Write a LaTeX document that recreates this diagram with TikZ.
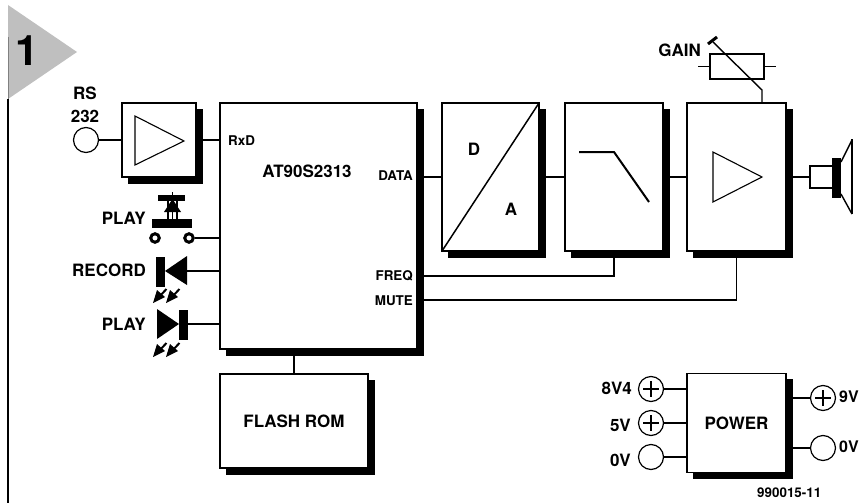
\documentclass[tikz,border=0pt]{standalone}
\usepackage{fontspec}
\setmainfont{TeX Gyre Heros}
\usetikzlibrary{shadows,calc}
\tikzset{
  x=1pt,y=-1pt,
  blockbox/.style={draw=black,line width=1.5pt,fill=white,outer sep=0pt,inner sep=0pt,align=center,
    font=\bfseries\fontsize{17}{20}\selectfont,
    general shadow={shadow xshift=6.5pt,shadow yshift=-6pt,fill=black,draw=black,line width=.5pt}},
  wire/.style={draw=black,line width=1.4pt},
  sym/.style={draw=black,line width=1.1pt,line join=miter},
  term/.style={circle,draw=black,line width=1.2pt,fill=white,inner sep=0pt,minimum size=25pt,outer sep=0pt},
  contact/.style={circle,draw=black,line width=3pt,fill=white,inner sep=0pt,minimum size=8.5pt},
  lab/.style={font=\bfseries\fontsize{17}{20}\selectfont,inner sep=0pt,text=black},
  small/.style={font=\bfseries\fontsize{13.4}{16}\selectfont,inner sep=0pt,text=black},
}
\newcommand{\plusmark}[1]{\draw[line width=1.2pt] ($(#1.center)+(-8,0)$) -- ($(#1.center)+(8,0)$) ($(#1.center)+(0,-8)$) -- ($(#1.center)+(0,8)$);}
\newcommand{\ledarrow}[2]{%
  \draw[line width=2pt] (#1+5,#2-5) -- (#1+13.5,#2-14);
  \fill (#1,#2) -- (#1+4,#2-13) -- (#1+12,#2-6) -- cycle;
}
\begin{document}
\begin{tikzpicture}
\useasboundingbox (0,0) rectangle (867,503);
% flag
\fill[black!25] (8,5) -- (77,52) -- (8,99) -- cycle;
\draw[line width=1.5pt] (8,99) -- (8,503);
\draw[black!50,line width=.8pt] (8,37) -- (8,99);
\node[inner sep=0pt,font=\bfseries\fontsize{42}{42}\selectfont] (fignum) at (27,51) {1};
% blocks
\node[blockbox,minimum width=74pt,minimum height=74pt] (amp) at (159,140) {};
\node[blockbox,minimum width=197pt,minimum height=246pt] (mcu) at (318.5,226) {};
\node[blockbox,minimum width=97pt,minimum height=148pt] (dac) at (490.5,177) {};
\node[blockbox,minimum width=98pt,minimum height=148pt] (filt) at (614,177) {};
\node[blockbox,minimum width=99pt,minimum height=148pt] (pa) at (736.5,177) {};
\node[blockbox,minimum width=148pt,minimum height=94pt] (flash) at (294,421) {FLASH ROM};
\node[blockbox,minimum width=99pt,minimum height=99pt] (power) at (736.5,423) {POWER};
% text inside
\node[lab] (mcuname) at (307,171) {AT90S2313};
\node[small,anchor=west] (rxd) at (228,141) {RxD};
\node[small,anchor=east] (data) at (413,176) {DATA};
\node[small,anchor=east] (freq) at (413,276) {FREQ};
\node[small,anchor=east] (mute) at (413,301) {MUTE};
\node[lab] (dl) at (474,149) {D};
\node[lab] (al) at (511,209) {A};
% amp symbols
\draw[sym] (135,116) -- (184,141) -- (135,165) -- cycle;
\draw[sym] (713,152) -- (762,177) -- (713,202) -- cycle;
% dac diagonal and filter curve
\draw[line width=1.5pt] (dac.south west) -- (dac.north east);
\draw[line width=2pt,miter limit=10] (579,152) -- (614,152) -- (649,202);
% RS232
\node[term] (rs) at (86,140) {};
\node[lab] (rsa) at (85,93) {RS};
\node[lab] (rsb) at (85,116) {232};
\draw[wire] (rs) -- (amp);
\draw[wire] (amp.east) -- (amp.east -| mcu.west);
% chain wires
\draw[wire] (dac.west -| mcu.east) -- (dac.west);
\draw[wire] (dac.east) -- (filt.west);
\draw[wire] (filt.east) -- (pa.west);
\coordinate (fq) at (417,276);
\coordinate (mt) at (417,300);
\draw[wire] (fq) -- (fq -| filt.south) -- (filt.south);
\draw[wire] (mt) -- (mt -| pa.south) -- (pa.south);
\draw[wire] (flash.north) -- (flash.north |- mcu.south);
% play switch
\node[contact] (swa) at (155,238) {};
\node[contact] (swb) at (189,238) {};
\draw[wire] (swb) -- (swb -| mcu.west);
\fill (158,195) rectangle (185,201);
\fill (152,219) rectangle (192,228);
\draw[line width=2.4pt] (168,201) -- (168,219) (177,201) -- (177,219);
\fill (172.5,199) -- (181,212) -- (164,212) -- cycle;
\draw[line width=1.2pt] (172.5,192) -- (172.5,219);
\node[lab,anchor=east] (playa) at (146,218) {PLAY};
% record led
\fill (156,257) rectangle (165,287);
\fill (165,271) -- (187,256) -- (187,285) -- cycle;
\coordinate (recl) at (187,271);
\draw[wire] (recl) -- (recl -| mcu.west);
\ledarrow{153}{303}
\ledarrow{166}{303}
\node[lab,anchor=east] (rec) at (146,270) {RECORD};
% play led
\fill (157,309) -- (179,324) -- (157,339) -- cycle;
\fill (179,310) rectangle (188,340);
\coordinate (plal) at (188,324);
\draw[wire] (plal) -- (plal -| mcu.west);
\ledarrow{153}{357}
\ledarrow{166}{357}
\node[lab,anchor=east] (playb) at (146,324) {PLAY};
% gain pot
\node[draw=black,line width=2.2pt,fill=white,minimum width=54pt,minimum height=25pt,inner sep=0pt,outer sep=0pt] (pot) at (737,66.5) {};
\coordinate (pl) at (698,66.5);
\coordinate (pr) at (776,66.5);
\draw[line width=1.3pt] (pl) -- (pot.west) (pot.east) -- (pr);
\draw[line width=1.4pt] (762,103) -- (762,90) -- (713,42);
\draw[line width=3pt] (708,44) -- (717,37);
\node[lab,anchor=east] (gain) at (701,50) {GAIN};
% speaker
\node[draw=black,line width=2pt,fill=white,minimum width=23pt,minimum height=22pt,inner sep=0pt,outer sep=0pt] (spk) at (821.5,177) {};
\draw[wire] ($(pa.east)+(6,0)$) -- (spk.west);
\fill (832,158) rectangle (841,198);
\draw[line width=1.4pt] (841,162) -- (852,140);
\draw[line width=1.4pt] (841,194) -- (852,214);
\draw[line width=2pt] (852,139) -- (852,214);
% power
\node[term] (t84) at (651,389) {};
\node[term] (t5) at (651,423) {};
\node[term] (t0) at (651,457) {};
\node[term] (t9) at (823,398) {};
\node[term] (tg) at (823,448) {};
\plusmark{t84}\plusmark{t5}\plusmark{t9}
\draw[wire] (t84) -- (t84 -| power.west);
\draw[wire] (t5) -- (t5 -| power.west);
\draw[wire] (t0) -- (t0 -| power.west);
\draw[wire] (t9 -| power.east) -- (t9);
\draw[wire] (tg -| power.east) -- (tg);
\node[lab,anchor=east] (l84) at (632,388) {8V4};
\node[lab,anchor=east] (l5) at (631,425) {5V};
\node[lab,anchor=east] (l0) at (631,460) {0V};
\node[lab,anchor=west,font=\bfseries\fontsize{16}{18}\selectfont] (l9) at (839,397) {9V};
\node[lab,anchor=west,font=\bfseries\fontsize{16}{18}\selectfont] (lg) at (839,447) {0V};
\node[small,anchor=west] (code) at (757,493) {990015-11};
\end{tikzpicture}
\end{document}
